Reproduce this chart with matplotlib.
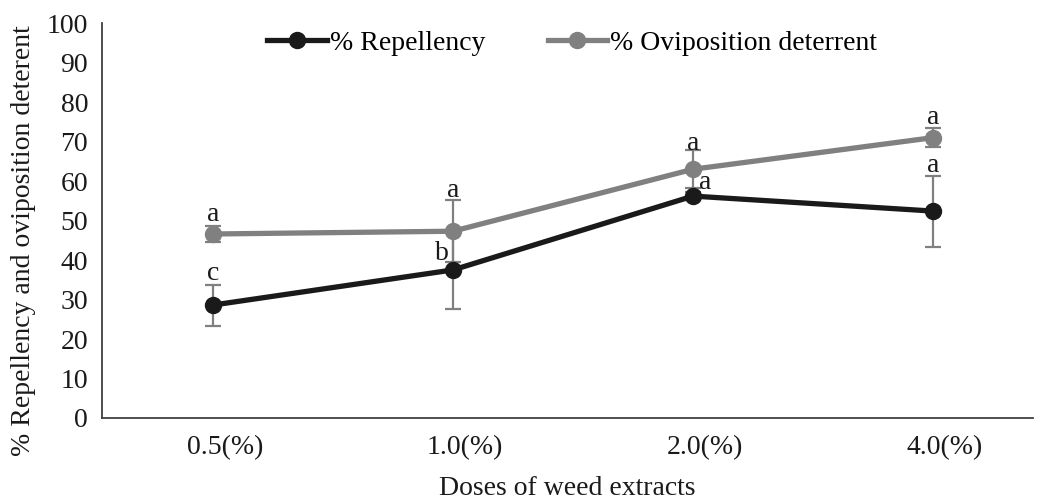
import numpy as np
from matplotlib import pyplot as plt

plt.rcParams["font.family"] = ["Liberation Serif", "DejaVu Serif"]

# Data
doses = ["0.5(%)", "1.0(%)", "2.0(%)", "4.0(%)"]
repellency = [28.6, 37.5, 56.2, 52.4]
repellency_err = [5.2, 9.9, 1.0, 9.0]
oviposition = [46.6, 47.3, 63.0, 71.0]
oviposition_err = [2.0, 7.9, 4.8, 2.4]
repellency_letters = ["c", "b", "a", "a"]
oviposition_letters = ["a", "a", "a", "a"]

INK = "#1a1a1a"
GREY = "#808080"
SPINE = "#404040"

fig = plt.figure(figsize=(10.51, 5.03), dpi=100)
ax = fig.add_axes([0.097, 0.169, 0.886, 0.785])
x = np.arange(len(doses))

# error bars sit underneath the lines and markers
ax.errorbar(x, oviposition, yerr=oviposition_err, fmt="none", ecolor=GREY,
            elinewidth=1.6, capsize=6, capthick=1.6, zorder=1)
ax.errorbar(x, repellency, yerr=repellency_err, fmt="none", ecolor=GREY,
            elinewidth=1.6, capsize=6, capthick=1.6, zorder=1)
ax.plot(x, oviposition, color=GREY, lw=3.8, marker="o", ms=11.5,
        label="% Oviposition deterrent", zorder=2)
ax.plot(x, repellency, color=INK, lw=3.8, marker="o", ms=11.5,
        label="% Repellency", zorder=3)

# significance letters (offsets in points from the top of each error bar)
rep_offsets = [(0, 8), (-8, 6), (9, 4), (0, 7)]
ovi_offsets = [(0, 8), (0, 7), (0, 5), (0, 8)]
for i, lab in enumerate(repellency_letters):
    dx, dy = rep_offsets[i]
    top = repellency[i] + repellency_err[i]
    if i in (1, 2):
        top = repellency[i] + 2
    ax.annotate(lab, (x[i], top), textcoords="offset points", xytext=(dx, dy),
                ha="center", va="center", fontsize=20, color=INK, zorder=4)
for i, lab in enumerate(oviposition_letters):
    dx, dy = ovi_offsets[i]
    top = oviposition[i] + oviposition_err[i]
    ax.annotate(lab, (x[i], top), textcoords="offset points", xytext=(dx, dy),
                ha="center", va="center", fontsize=20, color=INK, zorder=4)

ax.set_xlim(-0.4625, 3.417)
ax.set_ylim(0, 100)
ax.set_yticks(np.arange(0, 101, 10))
ax.set_xticks(x + 0.05, doses)
ax.tick_params(axis="both", length=0, labelsize=20, colors=INK)
ax.tick_params(axis="x", pad=12)
ax.tick_params(axis="y", pad=10)
for side in ("top", "right"):
    ax.spines[side].set_visible(False)
for side in ("left", "bottom"):
    ax.spines[side].set_color(SPINE)
    ax.spines[side].set_linewidth(1.3)

ax.set_xlabel("Doses of weed extracts", fontsize=20, color=INK, labelpad=12)
ax.set_ylabel("% Repellency and oviposition deterent", fontsize=20, color=INK)
ax.yaxis.set_label_coords(-0.071, 0.45)

handles, labels = ax.get_legend_handles_labels()
ax.legend(handles[::-1], labels[::-1], loc="center", ncol=2, frameon=False,
          fontsize=20, handlelength=2.15, handletextpad=0.1, columnspacing=2.25,
          bbox_to_anchor=(0.505, 0.949))

fig.savefig("out.png", facecolor="white")
